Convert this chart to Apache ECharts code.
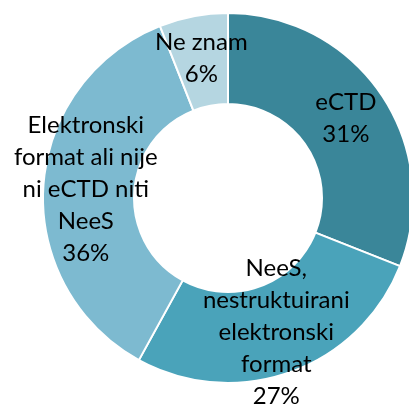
<!DOCTYPE html>
<html>
<head>
<meta charset="utf-8">
<script src="https://cdn.jsdelivr.net/npm/echarts@6/dist/echarts.min.js"></script>
<style>
  html, body { margin: 0; padding: 0; background: #fff; }
  #chart { width: 409px; height: 405px; }
</style>
</head>
<body>
<div id="chart"></div>
<script>
// podaci
var categories = ['eCTD', 'NeeS,\nnestruktuirani\nelektronski\nformat', 'Elektronski\nformat ali nije\nni eCTD niti\nNeeS', 'Ne znam'];
var values = [31, 27, 36, 6];
var colors = ['#3A8699', '#4AA3BA', '#7DBAD0', '#B5D6E1'];

var myChart = echarts.init(document.getElementById('chart'));

var pieData = [];
for (var i = 0; i < categories.length; i++) {
    pieData.push({ name: categories[i], value: values[i], itemStyle: { color: colors[i] } });
}

var option = {
    animation: false,
    series: [{
        type: 'pie',
        center: [228, 198],
        radius: [94, 185],
        startAngle: 90,
        clockwise: true,
        data: pieData,
        itemStyle: {
            borderColor: '#fff',
            borderWidth: 2
        },
        label: {
            position: 'inside',
            formatter: function (p) {
                return p.name + '\n' + p.value + '%';
            },
            color: '#000',
            fontFamily: 'Lato',
            fontSize: 24,
            lineHeight: 32,
            align: 'center'
        },
        labelLine: { show: false }
    }]
};
myChart.setOption(option);
</script>
</body>
</html>
